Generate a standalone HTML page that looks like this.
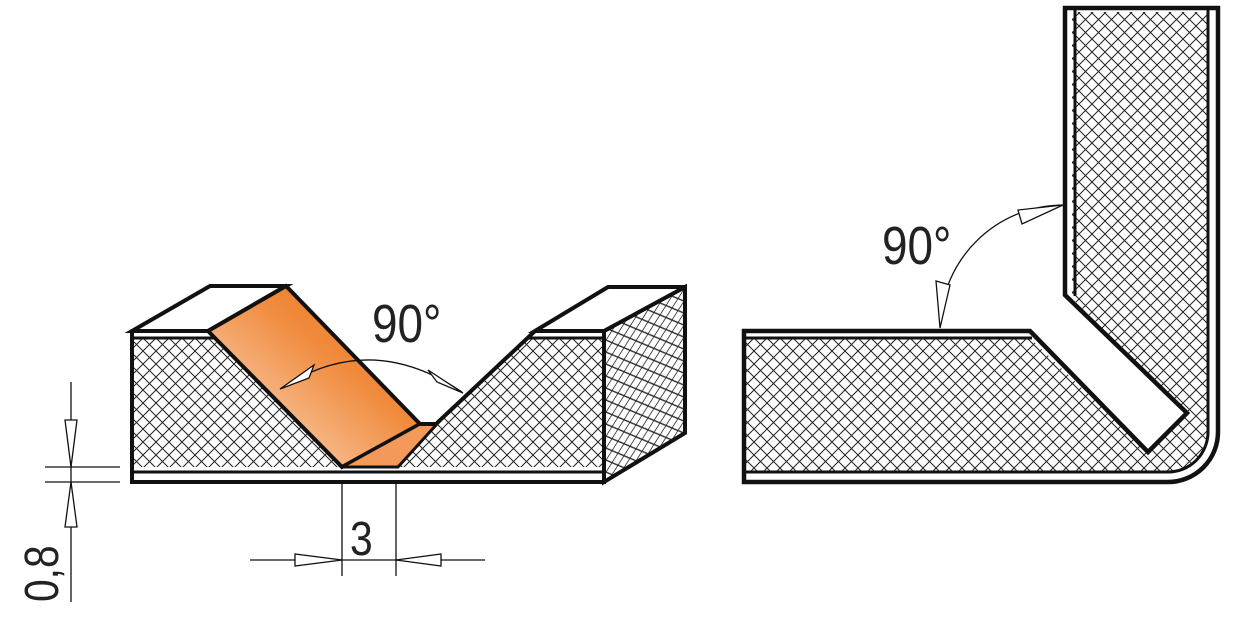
<!DOCTYPE html>
<html><head><meta charset="utf-8"><style>html,body{margin:0;padding:0;background:#fff}svg{display:block}</style></head><body>
<svg width="1255" height="618" viewBox="0 0 1255 618" xmlns="http://www.w3.org/2000/svg">
<defs>
<pattern id="h" width="13" height="13" patternUnits="userSpaceOnUse">
<rect width="13" height="13" fill="#fff"/>
<path d="M0,0 L13,13 M13,0 L0,13" stroke="#222" stroke-width="1"/>
</pattern>
<pattern id="h2" width="12" height="12" patternUnits="userSpaceOnUse" patternTransform="skewY(-30)">
<rect width="12" height="12" fill="#fff"/>
<path d="M0,0 L12,12 M12,0 L0,12" stroke="#222" stroke-width="1"/>
</pattern>
<linearGradient id="og" x1="0" y1="1" x2="1" y2="0">
<stop offset="0" stop-color="#fde6d4"/><stop offset="0.6" stop-color="#f08a3c"/><stop offset="1" stop-color="#e8721f"/>
</linearGradient>
</defs>
<g stroke="#111" stroke-linejoin="miter" fill="none">
<polygon points="132,338 212,338 342,467 132,467" fill="url(#h)" stroke="none"/>
<polygon points="437,423 530,338 604,338 604,467 398,467" fill="url(#h)" stroke="none"/>
<polygon points="604,331 685,287 685,433 604,482" fill="url(#h2)" stroke-width="4"/>
<polygon points="132,331 210,286 286,286 208,331" fill="#fff" stroke-width="4"/>
<polygon points="535,331 608,287 685,287 604,331" fill="#fff" stroke-width="4"/>
<polygon points="208,331 286,286 420,424 342,467" fill="url(#og)" stroke-width="4"/>
<polygon points="342,467 420,424 437,424 398,467" fill="#f39a5a" stroke-width="3"/>
<path d="M132,331 H208 M535,331 H604 M132,331 V482 H604 V331 M437,423 L535,331 M420,424 H437" stroke-width="4"/>
<path d="M132,338 H214 M528,338 H604 M132,472 H604" stroke-width="3"/>
<path d="M282,388 Q370,330 462,392" stroke-width="1.3"/>
<polygon points="280,389 314,365 309,378" fill="#fff" stroke-width="1.3"/>
<polygon points="463,393 428,370 437,382" fill="#fff" stroke-width="1.3"/>
<path d="M342,482 V576 M396,482 V576 M250,560 H485" stroke-width="1.3"/>
<polygon points="342,560 295,554 295,566" fill="#fff" stroke-width="1.3"/>
<polygon points="396,560 441,554 441,566" fill="#fff" stroke-width="1.3"/>
<path d="M71,382 V602 M45,467 H120 M45,482 H120" stroke-width="1.3"/>
<polygon points="71,467 65,420 77,420" fill="#fff" stroke-width="1.3"/>
<polygon points="71,482 65,527 77,527" fill="#fff" stroke-width="1.3"/>
<path d="M744,338 H1030 L1148,452 L1187,413 L1072,298 V12 H1208 V432 A40,40 0 0 1 1168,472 H744 Z" fill="url(#h)" stroke="none"/>
<path d="M744,331 H1030 L1148,452 L1187,413 L1065,295 V8 H1218 V432 A50,50 0 0 1 1168,482 H744 Z" stroke-width="4.5"/>
<path d="M744,338 H1032 M1208,8 V432 A40,40 0 0 1 1168,472 H744 M1075,8 V296" stroke-width="3"/>
<path d="M940,325 A124,124 0 0 1 1062,205" stroke-width="1.3"/>
<polygon points="940,328 936,281 950,285" fill="#fff" stroke-width="1.3"/>
<polygon points="1063,205 1018,210 1022,224" fill="#fff" stroke-width="1.3"/>
</g>
<g font-family="Liberation Sans, sans-serif" fill="#222">
<text x="372" y="342" font-size="54" transform="scale(0.85,1)" transform-origin="372 342">90°</text>
<text x="882" y="264" font-size="54" transform="scale(0.85,1)" transform-origin="882 264">90°</text>
<text x="350" y="555" font-size="48" transform="scale(0.85,1)" transform-origin="350 555">3</text>
<text x="0" y="0" font-size="48" transform="translate(58,602) rotate(-90) scale(0.85,1)">0,8</text>
</g>
</svg>
</body></html>
